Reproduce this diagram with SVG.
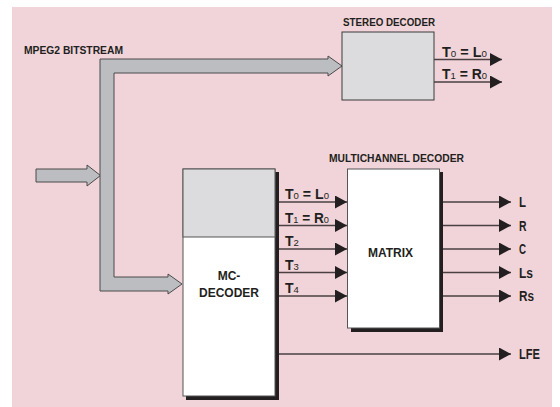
<svg xmlns="http://www.w3.org/2000/svg" width="560" height="407" viewBox="0 0 560 407">
<style>
.hdr{font-family:"Liberation Sans",Arial,sans-serif;font-weight:bold;font-size:10.5px;fill:#231f20}
.lbl{font-family:"Liberation Sans",Arial,sans-serif;font-weight:bold;font-size:14px;fill:#231f20}
.sub{font-size:9.5px;font-weight:normal}
.big{font-family:"Liberation Sans",Arial,sans-serif;font-weight:bold;font-size:12px;fill:#231f20}
.ln{stroke:#4a3f42;stroke-width:1.4;fill:none}
.shadow{fill:#231f20}
</style>
<defs>
<marker id="ah" markerUnits="userSpaceOnUse" markerWidth="12" markerHeight="13" refX="12" refY="6.5" orient="auto">
<path d="M0,0 L12,6.5 L0,13 Z" fill="#231f20"/>
</marker>
</defs>
<rect x="12" y="7" width="540" height="400" fill="#f0d4d9"/>
<text class="hdr" x="24" y="54" textLength="99" lengthAdjust="spacingAndGlyphs">MPEG2 BITSTREAM</text>

<g id="bitstream">
<polygon points="36,169 87,169 87,165 100.5,175.5 87,186 87,182 36,182" fill="#bcbdc1" stroke="#4a4a4a" stroke-width="1"/>
<polygon points="100,59 328,59 328,56 342,66 328,76 328,73 114,73 114,277 168,277 168,274 182,284 168,294 168,291 100,291" fill="#bcbdc1" stroke="#4a4a4a" stroke-width="1"/>
</g>

<g id="stereo-decoder">
<text class="hdr" x="343" y="26" textLength="92" lengthAdjust="spacingAndGlyphs">STEREO DECODER</text>
<rect x="342" y="32" width="92" height="68" fill="#dcdcde" stroke="#3a3a3a" stroke-width="1"/>
</g>

<g id="mc-decoder">
<rect class="shadow" x="186" y="172" width="93" height="228"/>
<rect x="183" y="169" width="92" height="227" fill="#ffffff" stroke="#555" stroke-width="1"/>
<rect x="183" y="169" width="92" height="68" fill="#dcdcde" stroke="#555" stroke-width="1"/>
<text class="big" x="229" y="280" text-anchor="middle">MC-</text>
<text class="big" x="229" y="297" text-anchor="middle">DECODER</text>
</g>

<g id="matrix">
<text class="hdr" x="329" y="162" textLength="135" lengthAdjust="spacingAndGlyphs">MULTICHANNEL DECODER</text>
<rect class="shadow" x="351" y="172" width="92" height="160"/>
<rect x="347.5" y="169" width="92" height="159" fill="#ffffff" stroke="#555" stroke-width="1"/>
<text class="big" x="390.5" y="257" text-anchor="middle" font-size="12.5">MATRIX</text>
</g>

<g id="connectors">
<line class="ln" x1="434" y1="59.5" x2="502" y2="59.5" marker-end="url(#ah)"/>
<line class="ln" x1="434" y1="82" x2="502" y2="82" marker-end="url(#ah)"/>
<line class="ln" x1="279" y1="202" x2="347" y2="202" marker-end="url(#ah)"/>
<line class="ln" x1="279" y1="225.5" x2="347" y2="225.5" marker-end="url(#ah)"/>
<line class="ln" x1="279" y1="249" x2="347" y2="249" marker-end="url(#ah)"/>
<line class="ln" x1="279" y1="272.5" x2="347" y2="272.5" marker-end="url(#ah)"/>
<line class="ln" x1="279" y1="296" x2="347" y2="296" marker-end="url(#ah)"/>
<line class="ln" x1="443" y1="202" x2="511" y2="202" marker-end="url(#ah)"/>
<line class="ln" x1="443" y1="225.5" x2="511" y2="225.5" marker-end="url(#ah)"/>
<line class="ln" x1="443" y1="249" x2="511" y2="249" marker-end="url(#ah)"/>
<line class="ln" x1="443" y1="272.5" x2="511" y2="272.5" marker-end="url(#ah)"/>
<line class="ln" x1="443" y1="296" x2="511" y2="296" marker-end="url(#ah)"/>
<line class="ln" x1="279" y1="354" x2="511" y2="354" marker-end="url(#ah)"/>
</g>

<g id="labels">
<text class="lbl" x="442" y="57" textLength="45" lengthAdjust="spacingAndGlyphs">T<tspan class="sub">0</tspan> = L<tspan class="sub">0</tspan></text>
<text class="lbl" x="442" y="79" textLength="45" lengthAdjust="spacingAndGlyphs">T<tspan class="sub">1</tspan> = R<tspan class="sub">0</tspan></text>
<text class="lbl" x="285" y="199" textLength="44" lengthAdjust="spacingAndGlyphs">T<tspan class="sub">0</tspan> = L<tspan class="sub">0</tspan></text>
<text class="lbl" x="285" y="222.5" textLength="44" lengthAdjust="spacingAndGlyphs">T<tspan class="sub">1</tspan> = R<tspan class="sub">0</tspan></text>
<text class="lbl" x="285" y="246" font-size="13">T<tspan class="sub" font-size="8.5">2</tspan></text>
<text class="lbl" x="285" y="269.5" font-size="13">T<tspan class="sub" font-size="8.5">3</tspan></text>
<text class="lbl" x="285" y="293" font-size="13">T<tspan class="sub" font-size="8.5">4</tspan></text>
<text class="lbl" x="519" y="207" textLength="7" lengthAdjust="spacingAndGlyphs">L</text>
<text class="lbl" x="519" y="230.5" textLength="7.5" lengthAdjust="spacingAndGlyphs">R</text>
<text class="lbl" x="519" y="254" textLength="7" lengthAdjust="spacingAndGlyphs">C</text>
<text class="lbl" x="519" y="277.5" textLength="14" lengthAdjust="spacingAndGlyphs">Ls</text>
<text class="lbl" x="519" y="301" textLength="15" lengthAdjust="spacingAndGlyphs">Rs</text>
<text class="lbl" x="519" y="359" textLength="21" lengthAdjust="spacingAndGlyphs">LFE</text>
</g>
</svg>
